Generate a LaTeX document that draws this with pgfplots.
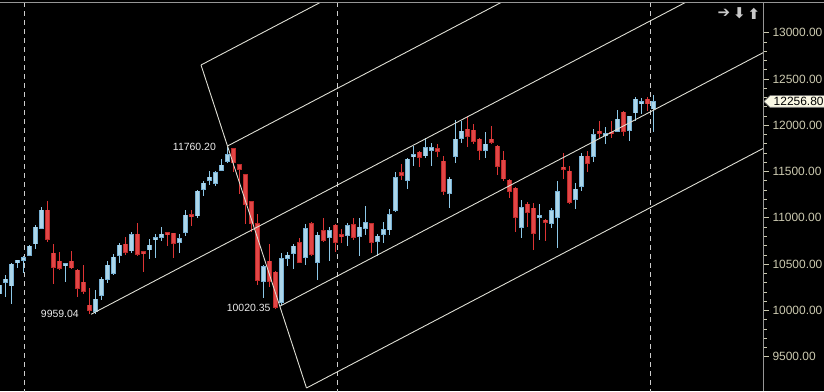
\documentclass[border=0pt]{standalone}
\usepackage{pgfplots}
\pgfplotsset{compat=1.18}
\usepackage{pgfplotstable}
\usepackage{fontspec}
\setmainfont{Liberation Sans}
\newfontfamily\dejavu{DejaVu Sans}
\definecolor{upfill}{RGB}{172,214,234}
\definecolor{upedge}{RGB}{118,176,212}
\definecolor{upwick}{RGB}{140,200,232}
\definecolor{dnfill}{RGB}{226,70,70}
\definecolor{dnedge}{RGB}{190,42,42}
\definecolor{dnwick}{RGB}{222,52,52}
\definecolor{chan}{RGB}{222,222,212}
\definecolor{tickc}{RGB}{204,202,176}
\definecolor{axisc}{RGB}{150,150,150}
\definecolor{vgrid}{RGB}{205,205,205}
\definecolor{labc}{RGB}{236,236,236}
\definecolor{boxc}{RGB}{250,248,228}
\definecolor{iconc}{RGB}{200,200,200}

\pgfplotstableread{
i o h l c
0 10178 10329 10135 10275
1 10307 10383 10145 10340
2 10264 10513 10070 10502
3 10513 10550 10459 10545
4 10537 10591 10408 10570
5 10591 10707 10585 10696
6 10718 10923 10664 10901
7 10883 11117 10880 11085
8 11085 11185 10743 10764
9 10621 10718 10286 10462
10 10534 10631 10437 10451
11 10483 10516 10311 10505
12 10534 10642 10448 10459
13 10437 10448 10149 10239
14 10307 10491 10181 10203
15 10059 10243 9959.04 9997
16 9987 10221 9965 10124
17 10159 10365 10113 10340
18 10337 10534 10297 10491
19 10397 10610 10383 10577
20 10591 10729 10513 10707
21 10718 10793 10602 10628
22 10642 10847 10621 10823
23 10826 10948 10591 10607
24 10635 10640 10419 10613
25 10653 10772 10556 10707
26 10764 10826 10563 10783
27 10786 10901 10750 10826
28 10837 10847 10696 10823
29 10837 10840 10563 10721
30 10732 10829 10617 10779
31 10840 11085 10807 11031
32 11031 11085 10915 11017
33 11020 11301 11002 11290
34 11304 11398 11239 11377
35 11406 11506 11355 11441
36 11369 11506 11347 11488
37 11509 11636 11503 11571
38 11607 11760.2 11593 11687
39 11748 11755 11499 11600
40 11579 11585 11255 11525
41 11471 11478 10934 11147
42 11175 11180 10851 10941
43 10941 11039 10275 10321
44 10311 10491 10138 10473
45 10534 10718 10257 10311
46 10415 10430 10020.35 10030
47 10084 10621 10060 10563
48 10563 10628 10483 10599
49 10617 10721 10445 10696
50 10736 10779 10509 10520
51 10574 10931 10491 10887
52 10941 10952 10591 10607
53 10520 10844 10329 10815
54 10866 11002 10743 10753
55 10786 10905 10534 10866
56 10923 10930 10635 10736
57 10815 10880 10729 10801
58 10807 10941 10699 10920
59 10931 10999 10761 10786
60 10797 10999 10591 10901
61 10887 11128 10815 10952
62 10941 10950 10624 10736
63 10743 10823 10591 10804
64 10823 10952 10732 10877
65 10869 11093 10815 11039
66 11077 11495 11067 11438
67 11485 11582 11409 11455
68 11401 11650 11312 11636
69 11661 11776 11563 11679
70 11711 11722 11553 11650
71 11668 11863 11650 11762
72 11725 11812 11563 11762
73 11751 11798 11661 11715
74 11614 11668 11247 11283
75 11261 11438 11110 11420
76 11661 12057 11596 11852
77 11855 12046 11812 11938
78 11960 12103 11769 11877
79 11949 12014 11801 11823
80 11852 11860 11625 11725
81 11725 11927 11650 11798
82 11852 11992 11798 11812
83 11776 11787 11463 11553
84 11625 11722 11398 11420
85 11409 11415 11218 11283
86 11323 11330 10851 11002
87 10898 11193 10786 11114
88 11150 11168 10901 11056
89 11107 11164 10653 10829
90 11002 11150 10761 11028
91 10977 10985 10753 10948
92 10937 11103 10894 11082
93 11002 11398 10678 11287
94 11549 11697 11420 11520
95 11506 11560 11153 11168
96 11196 11373 11093 11312
97 11337 11697 11290 11668
98 11668 11722 11499 11585
99 11661 11960 11607 11903
100 11938 12046 11849 11909
101 11887 11981 11798 11906
102 11927 12046 11859 11906
103 11931 12165 11924 12068
104 12143 12150 11884 11931
105 11941 12105 11830 12100
106 12133 12305 12046 12284
107 12233 12298 12122 12255
108 12284 12305 12154 12230
109 12176 12327 11931 12256.8
}\candles

\begin{document}
\begin{tikzpicture}[x=1bp,y=1bp]
\useasboundingbox (0,0) rectangle (824,391);
\fill[black] (0,0) rectangle (824,391);
\begin{axis}[
  at={(0,0)}, anchor=south west, scale only axis,
  width=763bp, height=388bp,
  xmin=0.1167, xmax=127.28, ymin=9130.2, ymax=13320.6,
  axis x line=none, axis y line*=right,
  y axis line style={draw=axisc, line width=0.8bp},
  xtick=\empty,
  ytick={9500,10000,...,13000},
  scaled y ticks=false,
  minor y tick num=4,
  tick align=outside, major tick length=6bp, minor tick length=3.5bp,
  tick style={draw=tickc, line width=0.8bp},
  yticklabel style={font=\fontsize{12}{12}\selectfont, text=tickc,
    /pgf/number format/fixed, /pgf/number format/fixed zerofill,
    /pgf/number format/precision=2, /pgf/number format/1000 sep={},
    /pgf/number format/assume math mode=true},
]
% dashed separators
\addplot[vgrid, line width=0.9bp, dash pattern=on 5bp off 4bp, forget plot] coordinates {(4.17,9100) (4.17,13400)};
\addplot[vgrid, line width=0.9bp, dash pattern=on 5bp off 4bp, forget plot] coordinates {(56.33,9100) (56.33,13400)};
\addplot[vgrid, line width=0.9bp, dash pattern=on 5bp off 4bp, forget plot] coordinates {(108.57,9100) (108.57,13400)};

% wicks
\addplot[draw=none, mark=none, forget plot, error bars/.cd, y dir=both, y explicit, error mark=none,
  error bar style={draw=upwick, line width=1bp, solid}]
  table[x=i, y expr={\thisrow{c}>=\thisrow{o} ? 0.5*(\thisrow{h}+\thisrow{l}) : nan},
        y error expr={0.5*(\thisrow{h}-\thisrow{l})}] {\candles};
\addplot[draw=none, mark=none, forget plot, error bars/.cd, y dir=both, y explicit, error mark=none,
  error bar style={draw=dnwick, line width=1bp, solid}]
  table[x=i, y expr={\thisrow{c}<\thisrow{o} ? 0.5*(\thisrow{h}+\thisrow{l}) : nan},
        y error expr={0.5*(\thisrow{h}-\thisrow{l})}] {\candles};
% bodies: outline then fill
\addplot[draw=none, mark=none, forget plot, error bars/.cd, y dir=both, y explicit, error mark=none,
  error bar style={draw=upedge, line width=5bp, solid}]
  table[x=i, y expr={\thisrow{c}>=\thisrow{o} ? 0.5*(\thisrow{o}+\thisrow{c}) : nan},
        y error expr={max(0.5*abs(\thisrow{c}-\thisrow{o}),10)+5}] {\candles};
\addplot[draw=none, mark=none, forget plot, error bars/.cd, y dir=both, y explicit, error mark=none,
  error bar style={draw=upfill, line width=3.2bp, solid}]
  table[x=i, y expr={\thisrow{c}>=\thisrow{o} ? 0.5*(\thisrow{o}+\thisrow{c}) : nan},
        y error expr={max(0.5*abs(\thisrow{c}-\thisrow{o}),10)-4}] {\candles};
\addplot[draw=none, mark=none, forget plot, error bars/.cd, y dir=both, y explicit, error mark=none,
  error bar style={draw=dnedge, line width=5bp, solid}]
  table[x=i, y expr={\thisrow{c}<\thisrow{o} ? 0.5*(\thisrow{o}+\thisrow{c}) : nan},
        y error expr={max(0.5*abs(\thisrow{c}-\thisrow{o}),10)+5}] {\candles};
\addplot[draw=none, mark=none, forget plot, error bars/.cd, y dir=both, y explicit, error mark=none,
  error bar style={draw=dnfill, line width=3.2bp, solid}]
  table[x=i, y expr={\thisrow{c}<\thisrow{o} ? 0.5*(\thisrow{o}+\thisrow{c}) : nan},
        y error expr={max(0.5*abs(\thisrow{c}-\thisrow{o}),10)-4}] {\candles};

% channel lines
\addplot[chan, line width=0.9bp, forget plot] coordinates {(15.3,9959.04) (127.3,13767)};
\addplot[chan, line width=0.9bp, forget plot] coordinates {(38.03,11776) (127.3,14811)};
\addplot[chan, line width=0.9bp, forget plot] coordinates {(33.62,12651) (60,13548)};
\addplot[chan, line width=0.9bp, forget plot] coordinates {(46.75,10045.6) (127.3,12784.3)};
\addplot[chan, line width=0.9bp, forget plot] coordinates {(51.2,9162.6) (127.3,11750)};
\addplot[chan, line width=0.9bp, forget plot] coordinates {(33.62,12651) (51.2,9162.6)};

% extreme labels
\node[anchor=east, inner sep=0, text=labc, font=\fontsize{10.5}{12}\selectfont] at (axis cs:36.12,11771) {11760.20};
\node[anchor=east, inner sep=0, text=labc, font=\fontsize{10.5}{12}\selectfont] at (axis cs:13.28,9964) {9959.04};
\node[anchor=east, inner sep=0, text=labc, font=\fontsize{10.5}{12}\selectfont] at (axis cs:45.23,10027) {10020.35};
\coordinate (lastp) at (axis cs:127.28,12256.8);
\end{axis}
% top border
\draw[axisc, line width=0.8bp] (0,388.3) -- (824,388.3);
% last price tag
\draw[fill=boxc, draw=gray, line width=0.6bp] ([xshift=1bp]lastp) -- ++(6,5.8) -- ++(60,0) -- ++(0,-11.6) -- ++(-60,0) -- cycle;
\node[anchor=west, inner sep=0, text=black, font=\fontsize{12}{12}\selectfont] at ([xshift=10.5bp]lastp) {12256.80};
% icons
\node[text=iconc, inner sep=0, font=\dejavu\bfseries\fontsize{15}{15}\selectfont] at (724,377.5) {➔};
\node[text=iconc, inner sep=0, font=\dejavu\bfseries\fontsize{15}{15}\selectfont] at (739.5,377.5) {⬇};
\node[text=iconc, inner sep=0, font=\dejavu\bfseries\fontsize{15}{15}\selectfont] at (754,377.5) {⬆};
\end{tikzpicture}
\end{document}
